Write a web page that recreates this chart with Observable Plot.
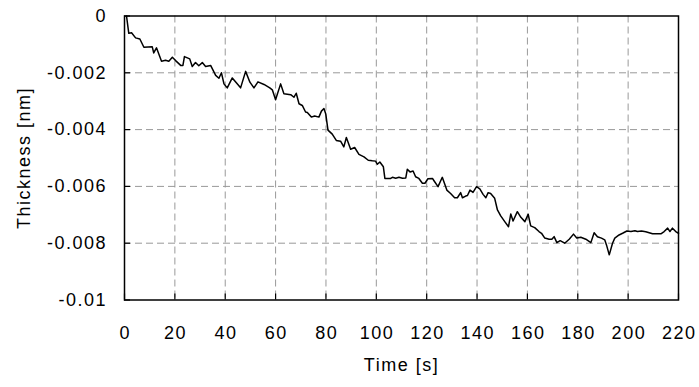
<!DOCTYPE html>
<html>
<head>
<meta charset="utf-8">
<script src="https://cdn.jsdelivr.net/npm/d3@7"></script>
<script src="https://cdn.jsdelivr.net/npm/@observablehq/plot@0.6"></script>
<style>
  html, body { margin: 0; padding: 0; background: #fff; }
  svg { display: block; }
</style>
</head>
<body>
<div id="chart"></div>
<script>
const timeS = [0.8,1.7,2.8,4.4,6.1,7.7,11.0,11.6,12.7,14.7,
  16.3,17.6,19.0,20.3,22.3,23.2,23.8,25.9,26.9,28.2,
  29.5,30.9,32.2,34.2,36.2,37.5,38.5,39.5,40.8,42.8,
  44.5,46.1,48.1,49.8,51.4,53.0,55.4,57.7,58.7,60.0,
  62.0,63.3,66.0,67.3,68.2,69.3,70.6,71.9,72.6,74.2,
  75.5,77.2,78.2,79.2,79.9,80.8,82.5,84.1,85.8,87.1,
  88.1,89.8,91.4,93.1,95.1,96.8,98.4,99.7,100.4,101.4,
  102.8,103.4,105.7,106.4,107.7,109.0,110.4,111.7,112.3,113.4,
  114.6,115.6,116.9,118.3,119.3,120.5,122.3,122.9,124.5,126.2,
  128.0,129.5,131.1,132.2,133.5,134.2,135.5,136.2,137.2,138.4,
  139.8,141.1,142.4,143.5,144.4,145.4,147.0,148.1,149.4,151.0,
  152.5,153.4,154.3,156.0,157.4,159.0,160.3,161.3,162.9,164.6,
  165.6,166.9,168.6,169.7,170.6,171.7,173.0,174.8,176.6,178.3,
  179.6,181.2,183.2,185.2,186.5,187.8,189.4,190.7,191.4,192.5,
  193.8,194.7,196.4,197.8,199.5,201.1,202.7,203.7,205.3,207.0,
  209.7,213.0,214.3,215.7,216.6,217.6,218.9,220.0];

const thicknessNm = [0,-0.00061,-0.00059,-0.00077,-0.00081,-0.00110,-0.00108,-0.00130,-0.00112,-0.00159,
  -0.00156,-0.00159,-0.00145,-0.00157,-0.00174,-0.00174,-0.00143,-0.00151,-0.00178,-0.00164,
  -0.00175,-0.00164,-0.00178,-0.00174,-0.00209,-0.00219,-0.00200,-0.00239,-0.00253,-0.00218,
  -0.00236,-0.00253,-0.00195,-0.00233,-0.00253,-0.00232,-0.00241,-0.00253,-0.00260,-0.00295,
  -0.00239,-0.00274,-0.00277,-0.00286,-0.00272,-0.00309,-0.00315,-0.00338,-0.00340,-0.00356,
  -0.00352,-0.00356,-0.00335,-0.00326,-0.00344,-0.00402,-0.00416,-0.00438,-0.00441,-0.00461,
  -0.00428,-0.00469,-0.00463,-0.00487,-0.00496,-0.00508,-0.00510,-0.00511,-0.00522,-0.00514,
  -0.00531,-0.00572,-0.00572,-0.00568,-0.00571,-0.00568,-0.00571,-0.00570,-0.00540,-0.00549,
  -0.00546,-0.00566,-0.00572,-0.00589,-0.00589,-0.00573,-0.00572,-0.00580,-0.00601,-0.00568,
  -0.00613,-0.00625,-0.00640,-0.00640,-0.00622,-0.00640,-0.00634,-0.00632,-0.00613,-0.00621,
  -0.00601,-0.00609,-0.00628,-0.00640,-0.00622,-0.00625,-0.00642,-0.00683,-0.00704,-0.00724,
  -0.00742,-0.00697,-0.00722,-0.00689,-0.00709,-0.00724,-0.00698,-0.00739,-0.00745,-0.00759,
  -0.00765,-0.00782,-0.00786,-0.00786,-0.00777,-0.00798,-0.00791,-0.00800,-0.00786,-0.00768,
  -0.00782,-0.00779,-0.00786,-0.00798,-0.00763,-0.00777,-0.00782,-0.00788,-0.00806,-0.00841,
  -0.00800,-0.00782,-0.00771,-0.00765,-0.00757,-0.00759,-0.00756,-0.00759,-0.00757,-0.00760,
  -0.00767,-0.00767,-0.00759,-0.00747,-0.00759,-0.00747,-0.00759,-0.00765];

const xTicks = [0,20,40,60,80,100,120,140,160,180,200,220];
const yTicks = [0,-0.002,-0.004,-0.006,-0.008,-0.01];
const xTitle = "Time [s]";
const yTitle = "Thickness [nm]";

const rows = timeS.map((t, i) => ({t, v: thicknessNm[i]}));
const FONT = "'Liberation Sans', Arial, sans-serif";
const FS = 18;

const W = 699, H = 387, ML = 124, MR = 21, MT = 15.5, MB = 87.5;
const frameW = W - ML - MR, frameH = H - MT - MB;
const TICK = 6;

const chart = Plot.plot({
  width: W,
  height: H,
  marginLeft: ML,
  marginRight: MR,
  marginTop: MT,
  marginBottom: MB,
  style: {fontFamily: FONT, fontSize: FS + "px", color: "#000", background: "#fff", letterSpacing: "1.5px"},
  x: {domain: [0, 220], label: null, axis: null},
  y: {domain: [-0.01, 0], label: null, axis: null},
  marks: [
    Plot.gridX(xTicks.slice(1, -1), {stroke: "#999", strokeOpacity: 1, strokeWidth: 1, strokeDasharray: "7,4"}),
    Plot.gridY(yTicks.slice(1, -1), {stroke: "#999", strokeOpacity: 1, strokeWidth: 1, strokeDasharray: "7,4"}),
    Plot.line(rows, {x: "t", y: "v", stroke: "#000", strokeWidth: 1.5}),
    Plot.tickX(xTicks, {x: d => d, insetTop: frameH - TICK, stroke: "#000", strokeWidth: 1.2}),
    Plot.tickY(yTicks, {y: d => d, insetRight: frameW - TICK, stroke: "#000", strokeWidth: 1.2}),
    Plot.frame({stroke: "#000", strokeWidth: 1.5}),
    Plot.text(xTicks, {x: d => d, text: d => String(d), frameAnchor: "bottom", dy: 33.5, dx: 0.75, lineAnchor: "middle", fontSize: FS, fill: "#000"}),
    Plot.text(yTicks, {y: d => d, text: d => String(d), frameAnchor: "left", dx: -17.5, textAnchor: "end", lineAnchor: "middle", fontSize: FS, fill: "#000"}),
    Plot.text([yTitle], {frameAnchor: "left", dx: -100, rotate: -90, textAnchor: "middle", lineAnchor: "middle", fontSize: FS, fill: "#000"}),
    Plot.text([xTitle], {frameAnchor: "bottom", dy: 65.5, textAnchor: "middle", lineAnchor: "middle", fontSize: FS, fill: "#000"})
  ]
});
document.getElementById("chart").appendChild(chart);
</script>
</body>
</html>
